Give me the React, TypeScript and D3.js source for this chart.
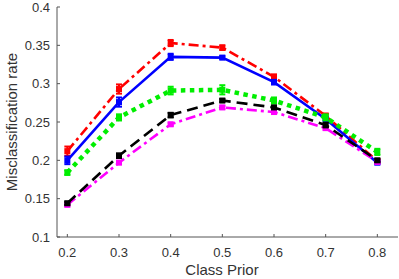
import React from "react";
import * as d3 from "d3";

const priors = [0.2, 0.3, 0.4, 0.5, 0.6, 0.7, 0.8];
const redVals = [0.212, 0.293, 0.353, 0.347, 0.309, 0.258, 0.199];
const redErr = [0.006, 0.006, 0.004, 0.003, 0.003, 0.003, 0.002];
const blueVals = [0.200, 0.276, 0.335, 0.334, 0.302, 0.254, 0.197];
const blueErr = [0.005, 0.006, 0.004, 0.002, 0.003, 0.002, 0.002];
const greenVals = [0.184, 0.256, 0.291, 0.292, 0.278, 0.256, 0.211];
const greenErr = [0.003, 0.004, 0.005, 0.006, 0.004, 0.004, 0.004];
const blackVals = [0.144, 0.206, 0.259, 0.278, 0.269, 0.246, 0.200];
const blackErr = [0.002, 0.003, 0.003, 0.002, 0.002, 0.003, 0.002];
const magentaVals = [0.142, 0.197, 0.247, 0.269, 0.263, 0.242, 0.198];
const magentaErr = [0.002, 0.002, 0.002, 0.002, 0.002, 0.002, 0.002];
const yTicks = [0.1, 0.15, 0.2, 0.25, 0.3, 0.35, 0.4];
const xTicks = [0.2, 0.3, 0.4, 0.5, 0.6, 0.7, 0.8];

const series = [
  { vals: redVals, err: redErr, color: "#ff0000", dash: "10,4,3,4", width: 2.6 },
  { vals: blueVals, err: blueErr, color: "#0000ff", dash: "", width: 2.6 },
  { vals: greenVals, err: greenErr, color: "#00ee00", dash: "4.5,4.5", width: 4.5 },
  { vals: magentaVals, err: magentaErr, color: "#ff00ff", dash: "10,4,3,4", width: 2.6 },
  { vals: blackVals, err: blackErr, color: "#000000", dash: "11,6", width: 2.6 },
];

export default function App() {
  const W = 399, H = 279;
  const x = d3.scaleLinear().domain([0.18, 0.84]).range([57, 398]);
  const y = d3.scaleLinear().domain([0.1, 0.4]).range([237, 7]);
  const line = d3.line<number>().x((_, i) => x(priors[i])).y((d) => y(d));
  const axisColor = "#555";
  const font = "'Liberation Sans', Arial, sans-serif";
  return (
    <svg width={W} height={H} style={{ position: "absolute", left: 0, top: 0 }}>
      <rect width={W} height={H} fill="#fff" />
      <line x1={57} x2={57} y1={7} y2={237} stroke={axisColor} strokeWidth={1} />
      <line x1={57} x2={398} y1={237} y2={237} stroke={axisColor} strokeWidth={1} />
      {yTicks.map((t) => (
        <g key={"y" + t}>
          <line x1={57} x2={60} y1={y(t)} y2={y(t)} stroke={axisColor} />
          <text x={50} y={y(t)} dy="0.35em" textAnchor="end" fontSize={13} fill="#333" fontFamily={font}>
            {String(t)}
          </text>
        </g>
      ))}
      {xTicks.map((t) => (
        <g key={"x" + t}>
          <line x1={x(t)} x2={x(t)} y1={237} y2={234} stroke={axisColor} />
          <text x={x(t)} y={252} dy="0.35em" textAnchor="middle" fontSize={13} fill="#333" fontFamily={font}>
            {String(t)}
          </text>
        </g>
      ))}
      <text x={222} y={270} dy="0.35em" textAnchor="middle" fontSize={15} fill="#333" fontFamily={font}>
        Class Prior
      </text>
      <text transform={`translate(12,122) rotate(-90)`} dy="0.35em" textAnchor="middle" fontSize={15} fill="#333" fontFamily={font}>
        Misclassification rate
      </text>
      {series.map((s, si) => (
        <g key={si}>
          <path d={line(s.vals) || ""} fill="none" stroke={s.color} strokeWidth={s.width} strokeDasharray={s.dash || undefined} />
          {s.vals.map((v, i) => {
            const cx = x(priors[i]);
            const y1 = y(v + s.err[i]);
            const y2 = y(v - s.err[i]);
            return (
              <g key={i}>
                <line x1={cx} x2={cx} y1={y1} y2={y2} stroke={s.color} strokeWidth={2} />
                <line x1={cx - 3} x2={cx + 3} y1={y1} y2={y1} stroke={s.color} strokeWidth={2} />
                <line x1={cx - 3} x2={cx + 3} y1={y2} y2={y2} stroke={s.color} strokeWidth={2} />
                <rect x={cx - 3} y={y(v) - 3} width={6} height={6} fill={s.color} />
              </g>
            );
          })}
        </g>
      ))}
    </svg>
  );
}
